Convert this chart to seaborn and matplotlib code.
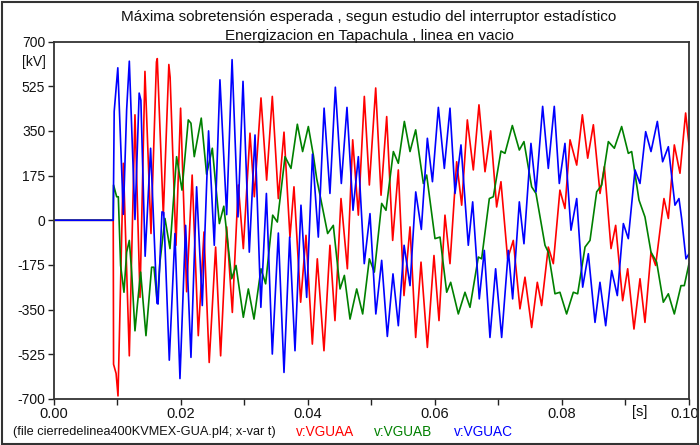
import numpy as np
import pandas as pd
import matplotlib
matplotlib.use("Agg")
import matplotlib.pyplot as plt
import matplotlib.transforms as mtransforms
from matplotlib.patches import Rectangle
import seaborn as sns

# Tensiones de fase en Tapachula (t en ms, v en kV)
t_vguaa = [0, 9.4, 9.45, 9.85, 10.15, 10.99, 11.93, 12.82, 13.61, 14.39, 15.34, 16.2, 16.33,
           17.28, 18.15, 18.35, 19.27, 20.0, 20.95, 21.82, 22.78, 23.68, 24.5, 25.51, 26.3,
           27.25, 28.14, 29.08, 29.87, 30.92, 31.6, 32.65, 33.54, 34.43, 35.38, 36.27, 37.21,
           37.84, 38.89, 39.73, 40.73, 41.51, 42.56, 43.5, 44.29, 45.24, 46.24, 47.08, 47.97,
           48.91, 49.7, 50.7, 51.54, 52.43, 53.37, 54.26, 55.15, 56.1, 56.99, 57.83, 58.83,
           59.87, 60.66, 61.6, 62.39, 63.44, 64.23, 65.12, 66.06, 66.95, 67.9, 68.79, 69.73,
           70.41, 71.46, 72.35, 73.4, 74.19, 75.24, 76.13, 76.81, 77.86, 78.65, 79.69, 80.48,
           81.28, 82.33, 83.22, 84.06, 84.95, 86.0, 86.68, 87.73, 88.46, 89.56, 90.35, 91.34,
           92.29, 93.07, 94.02, 94.75, 96.06, 96.75, 97.69, 98.58, 99.47, 100.0]
v_vguaa = [0, 0, -564, -600, -688, 223, -531, 413, -302, 583, -52, 620, 633,
           20, 610, 560, -98, 439, -280, 177, -452, -46, -557, -105, -531,
           -26, -361, 138, -111, 341, 92, 479, 157, 485, 85, 345, -66,
           131, -321, -59, -485, -151, -511, -98, -393, 85, -190, 315, 20,
           485, 138, 518, 98, 406, -79, 197, -295, -26, -459, -164, -498,
           -138, -393, 20, -170, 229, 59, 393, 197, 452, 190, 350, 52,
           151, -151, -79, -347, -223, -420, -243, -334, -105, -170, 118, 46,
           315, 216, 413, 243, 374, 105, 210, -111, -20, -315, -190, -426,
           -229, -400, -125, -177, 85, 7, 295, 184, 420, 295]

t_vguab = [0, 9.4, 9.45, 9.94, 10.2, 10.56, 11.09, 11.51, 11.93, 12.3, 12.82, 13.19, 13.71,
           14.55, 15.44, 15.81, 16.33, 16.75, 17.54, 18.33, 19.37, 20.22, 21.21, 21.63, 22.15,
           23.25, 24.09, 24.99, 26.1, 26.8, 28.04, 28.72, 29.87, 30.66, 31.55, 32.65, 33.38,
           34.49, 35.22, 36.43, 37.37, 38.37, 39.2, 40.1, 40.88, 41.41, 43.14, 44.03, 45.09,
           45.77, 46.66, 47.71, 48.65, 49.7, 50.49, 51.64, 52.32, 53.48, 54.26, 55.21, 56.1,
           56.99, 58.2, 58.72, 60.03, 60.82, 61.87, 62.5, 63.7, 64.75, 65.54, 66.85, 67.37,
           68.58, 69.21, 70.41, 71.04, 72.2, 73.3, 74.03, 75.24, 75.92, 77.34, 77.86, 78.91,
           79.69, 80.74, 81.8, 82.48, 83.64, 84.42, 85.47, 86.26, 87.31, 88.25, 89.4, 90.45,
           90.98, 92.13, 93.07, 94.02, 94.91, 95.96, 96.75, 97.69, 98.74, 99.26, 100.0]
v_vguab = [0, 0, 138, 92, 92, -177, -282, -125, -79, -203, -433, -334, -203,
           -452, -184, -184, -321, -164, 7, -111, 249, 118, 393, 380, 249,
           400, 180, 282, -13, 55, -229, -177, -380, -269, -387, -190, -249,
           20, -7, 249, 203, 376, 269, 367, 256, 164, -52, -20, -269,
           -216, -387, -269, -367, -151, -203, 66, 39, 269, 223, 387, 269,
           354, 144, 177, -72, -66, -282, -243, -367, -282, -341, -144, -151,
           85, 92, 271, 262, 371, 275, 308, 131, 105, -98, -125, -288,
           -282, -367, -282, -288, -105, -79, 111, 138, 308, 282, 367, 262,
           269, 79, 13, -125, -164, -321, -288, -367, -256, -256, -170]

t_vguac = [0, 9.4, 9.55, 10.12, 10.99, 11.51, 11.93, 12.82, 13.48, 13.75, 14.42, 15.28, 16.28,
           16.45, 17.07, 17.35, 18.22, 19.11, 19.9, 20.79, 21.63, 22.52, 23.41, 24.4, 25.3,
           26.19, 27.25, 28.1, 29.03, 29.82, 30.81, 31.71, 32.63, 33.5, 34.43, 35.38, 36.27,
           37.16, 38.0, 38.94, 39.84, 40.75, 41.67, 42.58, 43.5, 44.35, 45.29, 46.18, 47.13,
           47.97, 48.9, 49.8, 50.72, 51.64, 52.53, 53.42, 54.26, 55.17, 56.1, 57.0, 57.88,
           58.83, 59.63, 60.56, 61.5, 62.39, 63.18, 64.12, 65.27, 65.96, 67.0, 67.79, 68.68,
           69.57, 70.52, 71.57, 72.25, 73.3, 74.03, 75.13, 75.92, 76.97, 77.86, 78.8, 79.59,
           80.48, 81.43, 82.33, 83.27, 84.16, 85.21, 85.99, 86.89, 87.83, 88.72, 89.67, 90.45,
           91.5, 92.29, 93.18, 94.02, 95.02, 95.85, 96.75, 97.79, 98.42, 98.84, 99.52, 100.0]
v_vguac = [0, 0, 426, 597, 23, 433, 623, 3, 498, 470, -141, 282, -325,
           -328, 33, 30, -548, -52, -620, -20, -537, 131, -334, 350, -98,
           550, 22, 629, 13, 544, -125, 334, -341, 105, -524, -50, -596,
           -66, -511, 59, -302, 259, -66, 439, 105, 521, 144, 442, 39,
           249, -170, 26, -367, -157, -455, -210, -413, -98, -256, 111, -36,
           321, 151, 442, 203, 439, 105, 295, -98, 72, -308, -118, -459,
           -190, -459, -118, -308, 72, -92, 301, 111, 446, 203, 446, 144,
           301, -39, 85, -262, -131, -400, -243, -413, -197, -295, -13, -72,
           197, 144, 347, 269, 387, 229, 288, 59, 85, 7, -151, -131]

series_names = ["v:VGUAA", "v:VGUAB", "v:VGUAC"]
series_colors = ["#ff0000", "#008000", "#0000ff"]

y_ticks = [-700, -525, -350, -175, 0, 175, 350, 525, 700]
x_major = [0.00, 0.02, 0.04, 0.06, 0.08, 0.10]
x_minor = [0.01, 0.03, 0.05, 0.07, 0.09]

frames = []
for name, t_ms, v in zip(series_names,
                         [t_vguaa, t_vguab, t_vguac],
                         [v_vguaa, v_vguab, v_vguac]):
    frames.append(pd.DataFrame({"t": np.asarray(t_ms) / 1000.0, "v": v, "serie": name}))
data = pd.concat(frames, ignore_index=True)

sns.set_theme(style="white")
plt.rcParams["font.family"] = ["Liberation Sans", "DejaVu Sans"]

fig = plt.figure(figsize=(7.0, 4.45), dpi=100)
ax = fig.add_axes([53.5 / 700, 1 - 399 / 445, (689 - 53.5) / 700, (399 - 41.5) / 445])

sns.lineplot(data=data, x="t", y="v", hue="serie", hue_order=series_names,
             palette=dict(zip(series_names, series_colors)), estimator=None,
             sort=False, linewidth=1.2, legend=False, ax=ax)

ax.set_xlim(0, 0.10)
ax.set_ylim(-700, 700)
ax.set_xlabel("")
ax.set_ylabel("")

ax.set_yticks(y_ticks)
ax.set_yticklabels([str(v) for v in y_ticks])
ax.set_xticks(x_major)
ax.set_xticklabels([f"{v:.2f}" for v in x_major])
ax.set_xticks(x_minor, minor=True)
ax.tick_params(axis="both", which="both", direction="out", length=4, width=1,
               color="#222222", labelsize=10.5, labelcolor="#111111", pad=2)
ax.tick_params(axis="y", labelsize=10)
ax.tick_params(axis="x", which="both", bottom=True)
ax.tick_params(axis="y", left=True)

# la ultima etiqueta del eje x queda pegada al marco
last_label = ax.get_xticklabels()[-1]
last_label.set_transform(last_label.get_transform() +
                         mtransforms.ScaledTranslation(-4 / 100, 0, fig.dpi_scale_trans))

for side in ["left", "right", "top", "bottom"]:
    ax.spines[side].set_visible(True)
    ax.spines[side].set_color("#333333")
    ax.spines[side].set_linewidth(1.3)

# unidades de los ejes
ax.text(-0.012, 621, "[kV]", transform=ax.get_yaxis_transform(), ha="right",
        va="center", fontsize=10, color="#111111")
s_label = ax.text(0.0923, -700, "[s]", ha="center", va="top", fontsize=10.5, color="#111111")
s_label.set_transform(ax.transData + mtransforms.ScaledTranslation(0, -6 / 100, fig.dpi_scale_trans))

# titulos
fig.text(369 / 700, 1 - 20.7 / 445,
         "Máxima sobretensión esperada , segun estudio del interruptor estadístico",
         ha="center", va="baseline", fontsize=11, color="#111111")
fig.text(369 / 700, 1 - 39.7 / 445, "Energizacion en Tapachula , linea en vacio",
         ha="center", va="baseline", fontsize=11, color="#111111")

# pie con el archivo y las variables
fig.text(13 / 700, 1 - 432 / 445, "(file cierredelinea400KVMEX-GUA.pl4; x-var t)",
         ha="left", va="center", fontsize=9.2, color="#111111")
for name, color, xpos in zip(series_names, series_colors, [296, 374, 454]):
    fig.text(xpos / 700, 1 - 432 / 445, name, ha="left", va="center",
             fontsize=9.8, color=color)

# marco exterior
fig.add_artist(Rectangle((1.5 / 700, 1.5 / 445), 696 / 700, 441.5 / 445,
                         transform=fig.transFigure, fill=False,
                         edgecolor="#333333", linewidth=1.5))

fig.savefig("out.png", dpi=100)
